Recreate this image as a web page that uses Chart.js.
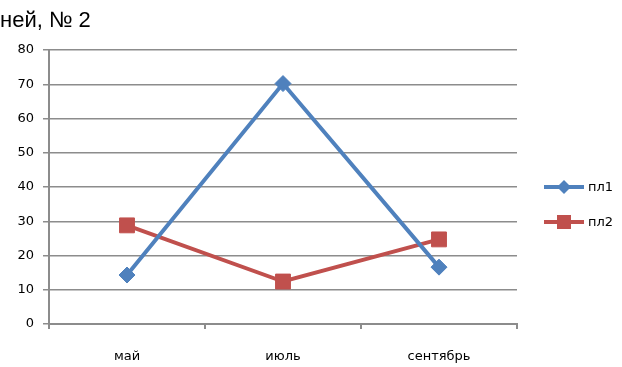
<!DOCTYPE html>
<html>
<head>
<meta charset="utf-8">
<script src="https://cdn.jsdelivr.net/npm/chart.js@4"></script>
<style>
  html, body { margin: 0; padding: 0; background: #ffffff; }
  #wrap { width: 622px; height: 367px; }
</style>
</head>
<body>
<div id="wrap"><canvas id="c" width="622" height="367"></canvas></div>
<script>
// Months along the x axis
const categories = ['май', 'июль', 'сентябрь'];
// Series values
const pl1 = [14.3, 70.2, 16.6];
const pl2 = [28.8, 12.4, 24.7];
const seriesNames = ['пл1', 'пл2'];
// Y axis range
const yTicks = [0, 10, 20, 30, 40, 50, 60, 70, 80];
const titleText = 'ней, № 2';

const BLUE = '#4f81bd';
const RED = '#c0504d';
const GRID = '#8c8c8c';
const FONT = "'DejaVu Sans', sans-serif";

// Title and legend (line segment with marker) drawn beside the plot
const decor = {
  id: 'decor',
  afterDraw(chart) {
    const ctx = chart.ctx;
    ctx.save();
    ctx.fillStyle = '#000';
    ctx.font = "22px 'Liberation Sans', Arial, sans-serif";
    ctx.textBaseline = 'alphabetic';
    ctx.textAlign = 'left';
    ctx.fillText(titleText, 0, 27);

    const area = chart.chartArea;
    const x0 = area.right + 27;
    const rows = [187, 222];
    chart.data.datasets.forEach((ds, i) => {
      const y = rows[i];
      ctx.strokeStyle = ds.borderColor;
      ctx.lineWidth = 4;
      ctx.beginPath();
      ctx.moveTo(x0, y);
      ctx.lineTo(x0 + 40, y);
      ctx.stroke();
      ctx.fillStyle = ds.borderColor;
      ctx.beginPath();
      if (ds.pointStyle === 'rectRot') {
        const r = 7;
        ctx.moveTo(x0 + 20, y - r);
        ctx.lineTo(x0 + 20 + r, y);
        ctx.lineTo(x0 + 20, y + r);
        ctx.lineTo(x0 + 20 - r, y);
        ctx.closePath();
      } else {
        ctx.rect(x0 + 20 - 7, y - 7, 14, 14);
      }
      ctx.fill();
      ctx.fillStyle = '#000';
      ctx.font = '13px ' + FONT;
      ctx.textBaseline = 'middle';
      ctx.fillText(ds.label, x0 + 44, y + 1);
    });
    ctx.restore();
  }
};

new Chart(document.getElementById('c'), {
  type: 'line',
  data: {
    labels: categories,
    datasets: [
      {
        label: seriesNames[0],
        data: pl1,
        borderColor: BLUE,
        backgroundColor: BLUE,
        borderWidth: 4,
        pointStyle: 'rectRot',
        pointRadius: 8,
        pointHoverRadius: 8,
        pointBorderWidth: 1,
        pointBackgroundColor: BLUE,
        pointBorderColor: BLUE,
        tension: 0
      },
      {
        label: seriesNames[1],
        data: pl2,
        borderColor: RED,
        backgroundColor: RED,
        borderWidth: 4,
        pointStyle: 'rect',
        pointRadius: 10.5,
        pointHoverRadius: 10.5,
        pointBorderWidth: 1,
        pointBackgroundColor: RED,
        pointBorderColor: RED,
        tension: 0
      }
    ]
  },
  options: {
    responsive: false,
    animation: false,
    devicePixelRatio: 1,
    layout: { padding: { top: 50, right: 105, left: 1, bottom: 0 } },
    plugins: {
      legend: { display: false },
      title: { display: false },
      tooltip: { enabled: false }
    },
    scales: {
      x: {
        type: 'category',
        offset: true,
        grid: {
          offset: true,
          drawOnChartArea: false,
          drawTicks: true,
          tickLength: 5,
          color: GRID,
          lineWidth: 2
        },
        border: { color: GRID, width: 2 },
        ticks: {
          color: '#000',
          font: { family: FONT, size: 13 },
          padding: 20,
          maxRotation: 0
        },
        afterFit(scale) { scale.height = 43; }
      },
      y: {
        min: 0,
        max: 80,
        afterBuildTicks(scale) { scale.ticks = yTicks.map(v => ({ value: v })); },
        grid: {
          color: GRID,
          lineWidth: 1.5,
          tickLength: 6,
          drawTicks: true
        },
        border: { color: GRID, width: 2 },
        ticks: {
          color: '#000',
          font: { family: FONT, size: 13 },
          padding: 9
        },
        afterFit(scale) { scale.width = 48; }
      }
    }
  },
  plugins: [decor]
});
</script>
</body>
</html>
